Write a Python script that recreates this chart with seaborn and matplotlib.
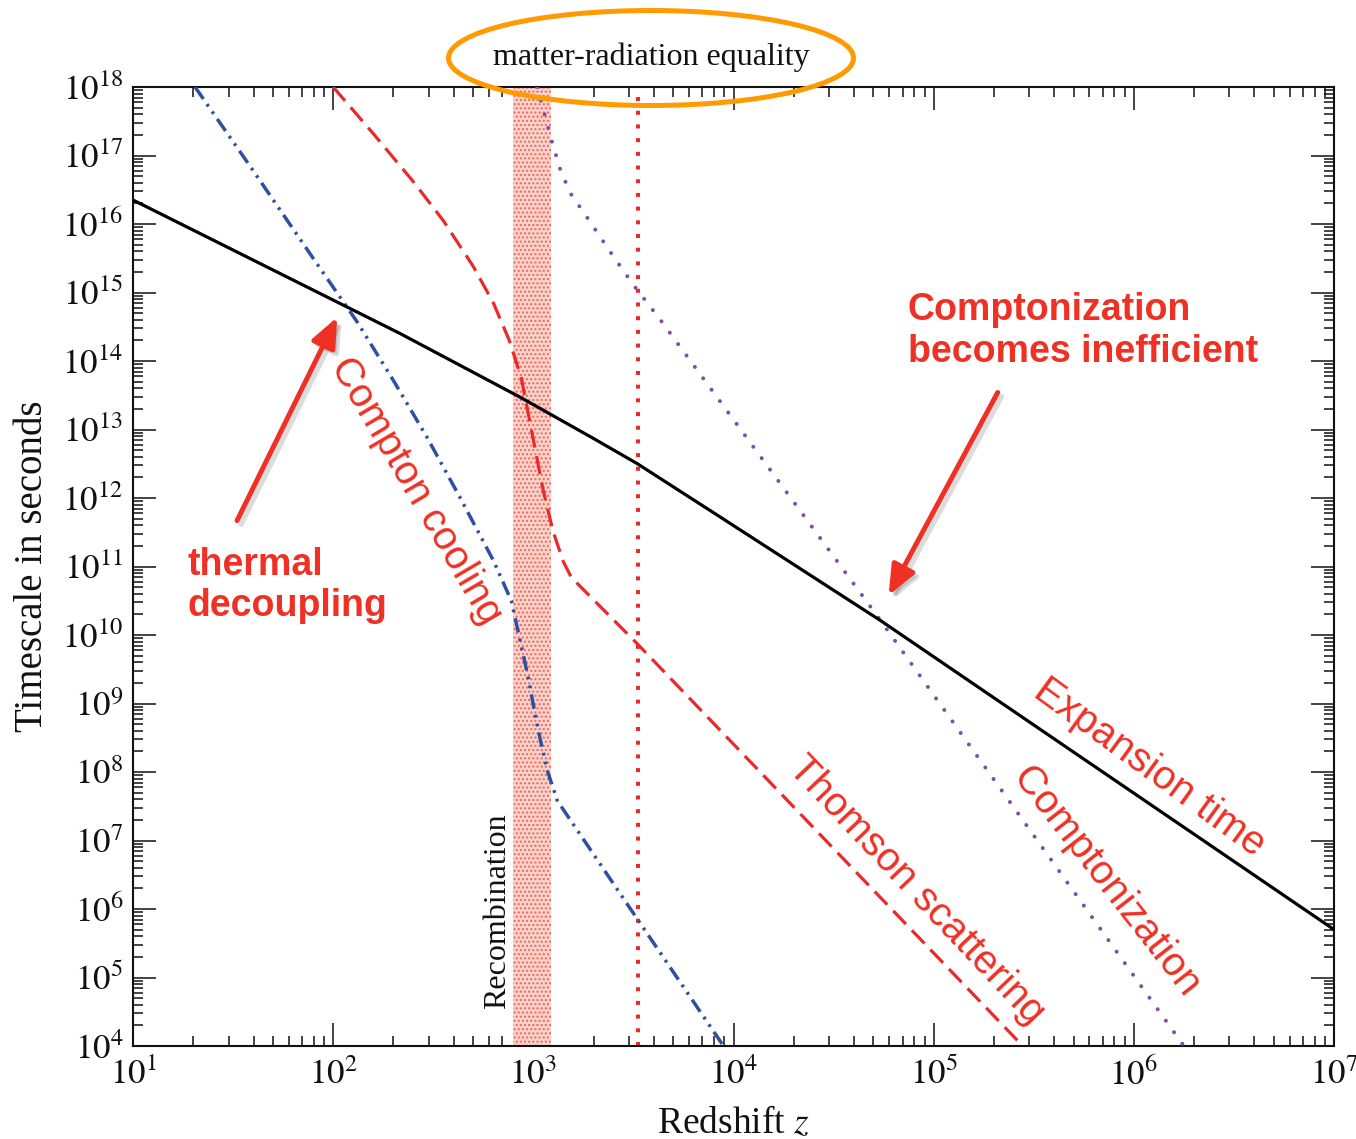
import numpy as np
import pandas as pd
import matplotlib
matplotlib.use("Agg")
import matplotlib.pyplot as plt
import seaborn as sns
from matplotlib.patches import Ellipse, FancyArrowPatch
from matplotlib.ticker import FixedLocator, LogLocator, NullFormatter
import matplotlib.transforms as mtransforms

# ---------------- data (log10 redshift, log10 timescale [s]) ----------------
expansion_log_z = [1.0, 2.335, 2.935, 3.30, 3.52, 3.935, 4.735, 7.0]
expansion_log_t = [16.35, 14.40, 13.47, 12.87, 12.5, 11.72, 10.21, 5.7]

compton_cooling_log_z = [1.31, 1.60, 1.90, 2.12, 2.30, 2.47, 2.635, 2.80, 2.89,
                         2.97, 3.025, 3.07, 3.12, 3.525, 3.95]
compton_cooling_log_t = [18.0, 16.78, 15.50, 14.57, 13.72, 12.88, 12.0, 11.09, 10.5,
                         9.44, 8.6, 8.02, 7.58, 5.83, 4.0]

thomson_log_z = [2.0, 2.2, 2.4, 2.55, 2.7, 2.8, 2.88, 2.94, 2.99, 3.05, 3.10,
                 3.15, 3.19, 3.52, 5.445]
thomson_log_t = [18.0, 17.32, 16.62, 16.05, 15.38, 14.85, 14.3, 13.75, 13.0, 12.1, 11.5,
                 11.07, 10.84, 9.87, 4.0]

comptonization_log_z = [3.02, 3.06, 3.095, 3.135, 3.185, 3.27, 3.385, 3.50, 3.635, 4.735, 6.25]
comptonization_log_t = [18.0, 17.56, 17.18, 16.79, 16.45, 16.09, 15.59, 15.11, 14.6, 10.21, 4.0]

recombination_z = [790, 1220]
equality_z = 3350

x_tick_values = [1e1, 1e2, 1e3, 1e4, 1e5, 1e6, 1e7]
x_tick_labels = [r"$10^{1}$", r"$10^{2}$", r"$10^{3}$", r"$10^{4}$",
                 r"$10^{5}$", r"$10^{6}$", r"$10^{7}$"]
y_tick_values = [1e4, 1e5, 1e6, 1e7, 1e8, 1e9, 1e10, 1e11, 1e12,
                 1e13, 1e14, 1e15, 1e16, 1e17, 1e18]
y_tick_labels = [r"$10^{4}$", r"$10^{5}$", r"$10^{6}$", r"$10^{7}$", r"$10^{8}$",
                 r"$10^{9}$", r"$10^{10}$", r"$10^{11}$", r"$10^{12}$", r"$10^{13}$",
                 r"$10^{14}$", r"$10^{15}$", r"$10^{16}$", r"$10^{17}$", r"$10^{18}$"]


def frame(lz, lt):
    return pd.DataFrame({"z": np.power(10.0, lz), "t": np.power(10.0, lt)})


# ---------------- style ----------------
sns.set_theme(style="ticks")
plt.rcParams.update({
    "font.family": ["Liberation Serif", "DejaVu Serif"],
    "mathtext.fontset": "stix",
    "xtick.direction": "in",
    "ytick.direction": "in",
    "xtick.top": True,
    "ytick.right": True,
    "axes.linewidth": 1.5,
    "axes.edgecolor": "#111111",
    "hatch.linewidth": 1.0,
})

fig = plt.figure(figsize=(13.56, 11.39), dpi=100)
ax = fig.add_axes([133 / 1356, 1 - 1046 / 1139, (1334 - 133) / 1356, (1046 - 87) / 1139])
ax.set_xscale("log")
ax.set_yscale("log")
ax.set_xlim(1e1, 1e7)
ax.set_ylim(1e4, 1e18)

RED = "#EA2A2A"
TXT_RED = "#EE3124"
BLUE = "#2F50A2"
PURPLE = "#7D4FAA"

# recombination band
ax.axvspan(recombination_z[0], recombination_z[1], facecolor="#FBD3CB",
           edgecolor="#F06458", hatch="....", linewidth=0, zorder=1)

# matter-radiation equality line
ax.axvline(equality_z, color=RED, lw=2.9, linestyle=(0, (1, 2.4)),
           dash_capstyle="butt", zorder=2)

common = dict(ax=ax, estimator=None, sort=False, errorbar=None, legend=False)
sns.lineplot(data=frame(expansion_log_z, expansion_log_t), x="z", y="t",
             color="black", lw=2.3, zorder=5, **common)
sns.lineplot(data=frame(compton_cooling_log_z, compton_cooling_log_t), x="z", y="t",
             color=BLUE, lw=2.5, linestyle=(0, (4.2, 1.8, 0.8, 1.8, 0.8, 1.8)),
             zorder=4, **common)
sns.lineplot(data=frame(thomson_log_z, thomson_log_t), x="z", y="t",
             color=RED, lw=2.3, linestyle=(0, (5.7, 2.7)), zorder=4, **common)
sns.lineplot(data=frame(comptonization_log_z, comptonization_log_t), x="z", y="t",
             color=PURPLE, lw=2.9, linestyle=(0, (0.01, 3.5)),
             dash_capstyle="round", zorder=4, **common)

# ---------------- axes / ticks ----------------
ax.xaxis.set_major_locator(FixedLocator(x_tick_values))
ax.yaxis.set_major_locator(FixedLocator(y_tick_values))
ax.set_xticklabels(x_tick_labels)
ax.set_yticklabels(y_tick_labels)
ax.xaxis.set_minor_locator(LogLocator(base=10, subs=np.arange(2, 10), numticks=100))
ax.yaxis.set_minor_locator(LogLocator(base=10, subs=np.arange(2, 10), numticks=100))
ax.xaxis.set_minor_formatter(NullFormatter())
ax.yaxis.set_minor_formatter(NullFormatter())
ax.tick_params(which="major", length=16.5, width=1.1, labelsize=25,
               direction="in", top=True, right=True, colors="#111111")
ax.tick_params(which="minor", length=7.5, width=1.1, direction="in",
               top=True, right=True, colors="#111111")
ax.tick_params(axis="x", which="major", pad=9)
ax.tick_params(axis="y", which="major", pad=7)

ax.set_xlabel(r"Redshift $z$", fontsize=27, color="#111111")
ax.set_ylabel("Timescale in seconds", fontsize=28, color="#111111")
ax.xaxis.set_label_coords(0.5, -0.063)
ax.yaxis.set_label_coords(-0.068, 0.5)

# ---------------- annotations ----------------
sans = ["Liberation Sans", "DejaVu Sans"]


def dpt(lz, lt):
    return (10 ** lz, 10 ** lt)


ax.text(*dpt(1.27, 10.87), "thermal", family=sans, weight="bold", fontsize=27,
        color=TXT_RED, ha="left", va="baseline", zorder=6)
ax.text(*dpt(1.27, 10.28), "decoupling", family=sans, weight="bold", fontsize=27,
        color=TXT_RED, ha="left", va="baseline", zorder=6)
ax.text(*dpt(4.87, 14.595), "Comptonization", family=sans, weight="bold", fontsize=27,
        color=TXT_RED, ha="left", va="baseline", zorder=6)
ax.text(*dpt(4.87, 13.98), "becomes inefficient", family=sans, weight="bold",
        fontsize=27, color=TXT_RED, ha="left", va="baseline", zorder=6)

rot_labels = [
    ("Compton cooling", 2.415, 12.1, -59.5),
    ("Thomson scattering", 4.915, 6.27, -46.5),
    ("Comptonization", 5.86, 6.40, -52.0),
    ("Expansion time", 6.08, 8.07, -36.0),
]
for s, lz, lt, r in rot_labels:
    ax.text(*dpt(lz, lt), s, family=sans, fontsize=29, color=TXT_RED, rotation=r,
            rotation_mode="anchor", ha="center", va="center", zorder=6)

ax.text(*dpt(2.82, 5.97), "Recombination", fontsize=23, rotation=90,
        rotation_mode="anchor", ha="center", va="center", color="#111111", zorder=6)

# arrows with soft shadow
arrows = [((1.52, 11.67), (2.02, 14.64)), ((5.32, 13.54), (4.775, 10.58))]
shadow_tr = mtransforms.offset_copy(ax.transData, fig=fig, x=4, y=-4, units="dots")
for (a, b) in arrows:
    for tr, col, alpha, z in [(shadow_tr, "0.55", 0.3, 6), (ax.transData, "#EE3124", 1.0, 7)]:
        arr = FancyArrowPatch(dpt(*a), dpt(*b), transform=tr,
                              arrowstyle="-|>,head_length=0.9,head_width=0.38",
                              mutation_scale=20, lw=3.6, color=col, alpha=alpha,
                              shrinkA=0, shrinkB=0, zorder=z)
        ax.add_patch(arr)

# matter-radiation equality label with orange ellipse
fig.text(651 / 1356, 1 - 57 / 1139, "matter-radiation equality", fontsize=23,
         ha="center", va="center", color="#111111", zorder=10)
ell = Ellipse((651 / 1356, 1 - 58 / 1139), 405 / 1356, 95 / 1139,
              transform=fig.transFigure, fill=False, edgecolor="#FF9A00", lw=3.6,
              zorder=10)
fig.add_artist(ell)

fig.savefig("out.png", dpi=100)
